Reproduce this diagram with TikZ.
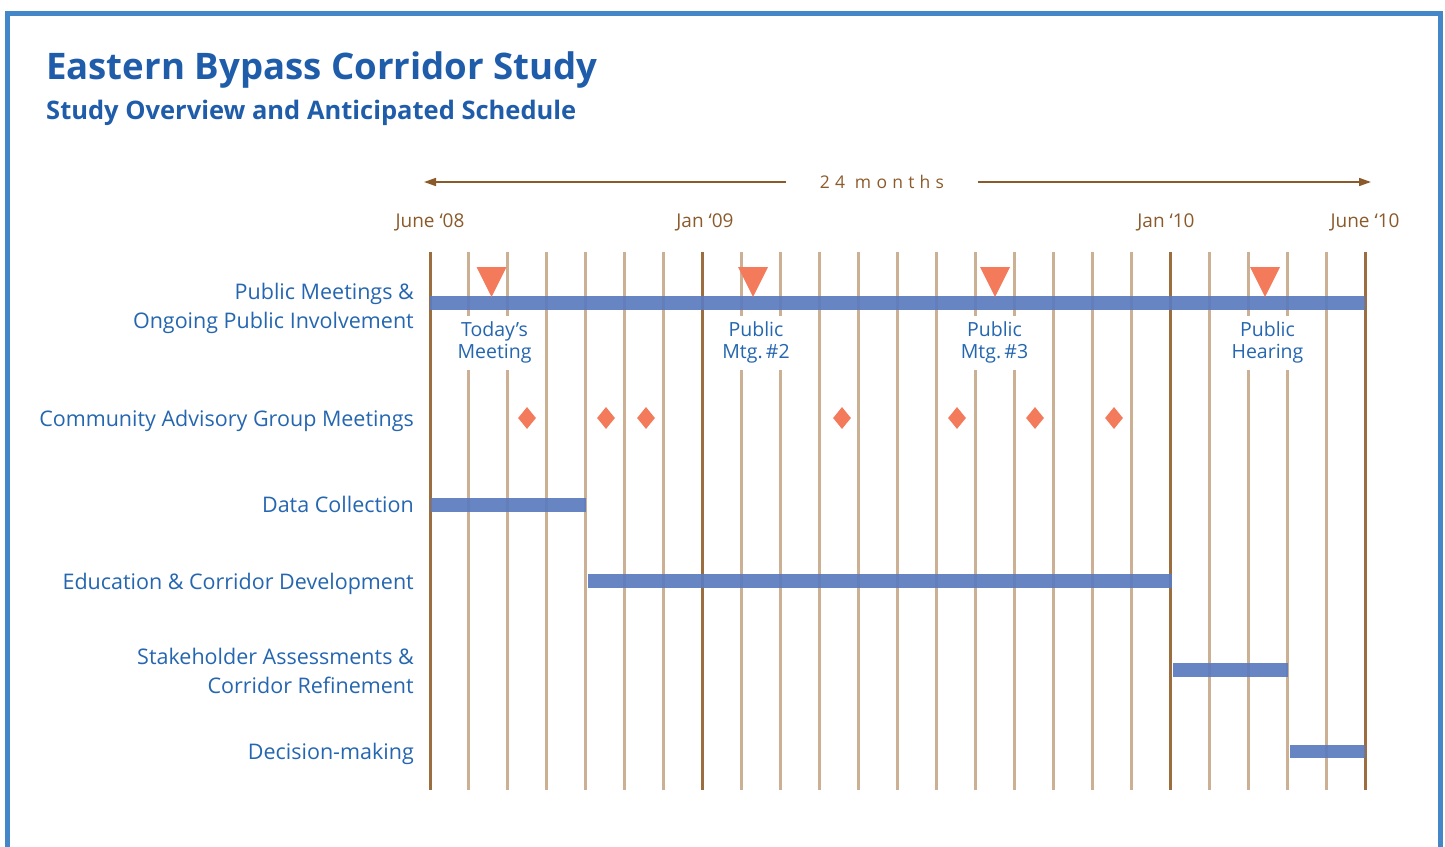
\documentclass[tikz,border=0pt]{standalone}
\usepackage{fontspec}
\setmainfont{Open Sans}
\usetikzlibrary{arrows.meta,shapes.geometric}
\definecolor{frameblue}{HTML}{4387C9}
\definecolor{titleblue}{HTML}{1F5DAA}
\definecolor{labelblue}{HTML}{2566B0}
\definecolor{barblue}{HTML}{5B7BBE}
\definecolor{tanline}{HTML}{CBB094}
\definecolor{brownline}{HTML}{9C6E3F}
\definecolor{salmon}{HTML}{F47A5C}
\definecolor{axisbrown}{HTML}{8B5A2B}
\tikzset{
  rowlabel/.style={anchor=east, align=right, text=labelblue, font=\fontsize{21.5}{29}\selectfont, inner sep=0pt},
  evlabel/.style={align=center, text=labelblue, font=\fontsize{19.5}{22}\selectfont, fill=white, inner xsep=2pt, minimum height=54pt},
  monthlabel/.style={text=axisbrown, font=\fontsize{19}{22}\selectfont, inner sep=0pt},
  minorline/.style={draw=tanline, line width=3pt},
  majorline/.style={draw=brownline, line width=3pt},
  bar/.style={fill=barblue, fill opacity=0.93},
  cag/.style={diamond, fill=salmon, minimum width=18pt, minimum height=22pt, inner sep=0pt},
  mtg/.style={fill=salmon},
  axisarrow/.style={draw=axisbrown, line width=1.6pt, -{Triangle[length=12pt,width=8pt]}}
}
\begin{document}
\begin{tikzpicture}[x=1pt,y=-1pt]
\useasboundingbox (0,0) rectangle (1445,846);
% frame
\draw[frameblue, line width=5pt] (7,850) -- (7,13.5) -- (1440.5,13.5) -- (1440.5,850);
% titles
\node[anchor=base west, text=titleblue, font=\bfseries\fontsize{36.6}{44}\selectfont, inner sep=0pt] (title) at (46,79) {Eastern Bypass Corridor Study};
\node[anchor=base west, text=titleblue, font=\bfseries\fontsize{25.5}{30}\selectfont, inner sep=0pt] (subtitle) at (46,119) {Study Overview and Anticipated Schedule};
% duration arrow
\node[text=axisbrown, font=\fontsize{17.5}{22}\selectfont\addfontfeature{LetterSpace=30}, inner xsep=34pt] (months) at (882,182) {24 months};
\coordinate (lend) at (424,182);
\coordinate (rend) at (1371,182);
\draw[axisarrow] (months.west) -- (lend);
\draw[axisarrow] (months.east) -- (rend);
% month labels
\node[monthlabel] (m0) at (430,222) {June ‘08};
\node[monthlabel] (m7) at (705,222) {Jan ‘09};
\node[monthlabel] (m19) at (1166,222) {Jan ‘10};
\node[monthlabel] (m24) at (1365,222) {June ‘10};
% grid
\foreach \i in {0,...,24}{
  \pgfmathsetmacro{\xx}{430+\i*38.958}
  \ifnum\i=0 \draw[majorline] (\xx,252) -- (\xx,790);
  \else\ifnum\i=7 \draw[majorline] (\xx,252) -- (\xx,790);
  \else\ifnum\i=19 \draw[majorline] (\xx,252) -- (\xx,790);
  \else\ifnum\i=24 \draw[majorline] (\xx,252) -- (\xx,790);
  \else \draw[minorline] (\xx,252) -- (\xx,790);
  \fi\fi\fi\fi
}
% row labels
\node[rowlabel] (r1) at (414,308) {Public Meetings \&\\Ongoing Public Involvement};
\node[rowlabel] (r2) at (414,421) {Community Advisory Group Meetings};
\node[rowlabel] (r3) at (414,504.5) {Data Collection};
\node[rowlabel] (r4) at (414,584) {Education \& Corridor Development};
\node[rowlabel] (r5) at (414,671) {Stakeholder Assessments \&\\Corridor Refinement};
\node[rowlabel] (r6) at (414,754) {Decision-making};
% bars
\fill[bar] (430,296) rectangle (1365,310);
\fill[bar] (431,498) rectangle (586,512);
\fill[bar] (588,574) rectangle (1172,588);
\fill[bar] (1173,663) rectangle (1288,677);
\fill[bar] (1290,745) rectangle (1365,758);
% public meetings
\foreach \c in {491.5,753,995,1265}{
  \fill[mtg] (\c-15,267) -- (\c+15,267) -- (\c,297) -- cycle;
}
\node[evlabel] (e1) at (494.5,342.5) {Today’s\\Meeting};
\node[evlabel] (e2) at (756,342.5) {Public\\Mtg.\,\#2};
\node[evlabel] (e3) at (994.5,342.5) {Public\\Mtg.\,\#3};
\node[evlabel] (e4) at (1267.5,342.5) {Public\\Hearing};
% CAG meetings
\foreach \c [count=\k] in {527,606,646,842,957,1035,1114}{
  \node[cag] (d\k) at (\c,418) {};
}
\end{tikzpicture}
\end{document}
